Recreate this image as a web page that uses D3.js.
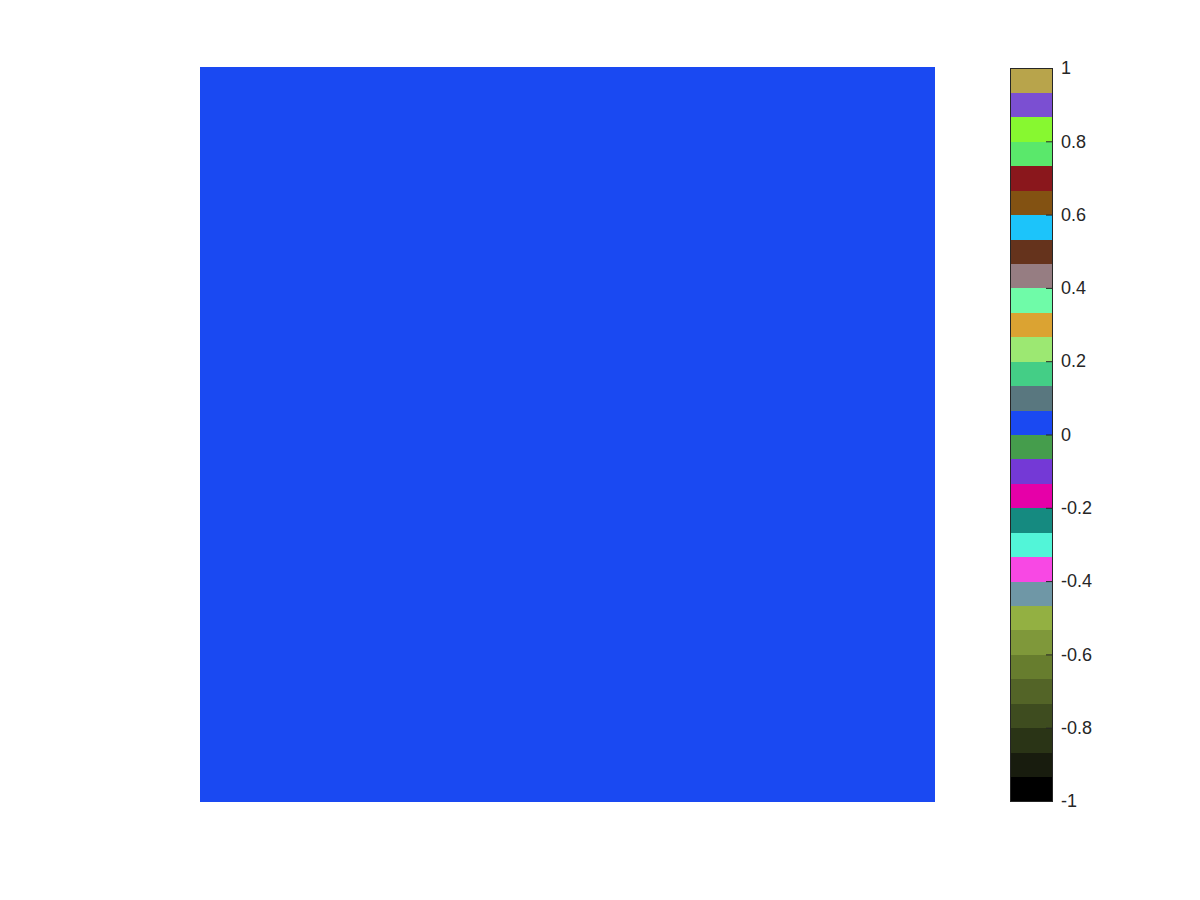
<!DOCTYPE html>
<html><head><meta charset="utf-8">
<script src="https://cdn.jsdelivr.net/npm/d3@7"></script>
<style>body{margin:0;background:#fff}svg{display:block}</style>
</head><body>
<svg id="c" width="1200" height="900"></svg>
<script>
// image data: 10x10 matrix of values (all zero)
const rows = [0,1,2,3,4,5,6,7,8,9];
const cols = [0,1,2,3,4,5,6,7,8,9];
const values = [
 [0,0,0,0,0,0,0,0,0,0],[0,0,0,0,0,0,0,0,0,0],[0,0,0,0,0,0,0,0,0,0],[0,0,0,0,0,0,0,0,0,0],[0,0,0,0,0,0,0,0,0,0],
 [0,0,0,0,0,0,0,0,0,0],[0,0,0,0,0,0,0,0,0,0],[0,0,0,0,0,0,0,0,0,0],[0,0,0,0,0,0,0,0,0,0],[0,0,0,0,0,0,0,0,0,0]
];
// colormap, from value -1 (first) up to 1 (last)
const cmap = ["#000000","#181C0E","#2A3416","#3E4C1F","#536427","#677D2E","#7F983A","#93B042",
 "#6F97A6","#F848E4","#52F5D8","#158A80","#E600A8","#7439D6","#459D4C","#1A49F2",
 "#59777F","#44CE86","#9CE872","#DBA332","#6FFBA8","#967D82","#65331C","#1CC4FA",
 "#835212","#8A171C","#5AE86B","#87F830","#7B4FD2","#B8A44B"];
const cbTicks = [-1,-0.8,-0.6,-0.4,-0.2,0,0.2,0.4,0.6,0.8,1];
const cmin = -1, cmax = 1;

const svg = d3.select("#c");
const x = d3.scaleBand().domain(cols).range([200,934]);
const y = d3.scaleBand().domain(rows).range([67,801]);
const colorOf = v => {
  const n = cmap.length;
  let i = Math.floor((v - cmin) / (cmax - cmin) * n);
  i = Math.max(0, Math.min(n - 1, i));
  return cmap[i];
};
const cells = [];
values.forEach((r, i) => r.forEach((v, j) => cells.push({i, j, v})));
svg.append("g").selectAll("rect").data(cells).join("rect")
  .attr("x", d => x(cols[d.j])).attr("y", d => y(rows[d.i]))
  .attr("width", x.bandwidth() + 0.5).attr("height", y.bandwidth() + 0.5)
  .attr("fill", d => colorOf(d.v)).attr("shape-rendering","crispEdges");

// colorbar
const cbx0 = 1010, cbx1 = 1053;
const cy = d3.scaleLinear().domain([cmin, cmax]).range([801, 68]);
const step = (cmax - cmin) / cmap.length;
const cb = svg.append("g");
cb.selectAll("rect").data(cmap).join("rect")
  .attr("x", cbx0).attr("width", cbx1 - cbx0)
  .attr("y", (c, i) => cy(cmin + (i + 1) * step))
  .attr("height", (c, i) => cy(cmin + i * step) - cy(cmin + (i + 1) * step) + 0.5)
  .attr("fill", c => c).attr("shape-rendering","crispEdges");
const ax = d3.axisRight(cy).tickValues(cbTicks).tickSize(-7).tickPadding(15)
  .tickFormat(d => String(+d.toFixed(1)));
const ag = svg.append("g").attr("transform", `translate(${cbx1},0)`).call(ax);
ag.select(".domain").remove();
ag.selectAll("line").attr("stroke","#262626");
ag.selectAll("text").attr("fill","#262626").attr("font-family","'Liberation Sans', Arial, sans-serif")
  .attr("font-size","18px").attr("x", 8).attr("text-anchor","start");
svg.append("rect").attr("x", cbx0 + 0.5).attr("y", 68.5).attr("width", cbx1 - cbx0 - 1).attr("height", 733)
  .attr("fill","none").attr("stroke","#262626").attr("stroke-width",1);
</script>
</body></html>
